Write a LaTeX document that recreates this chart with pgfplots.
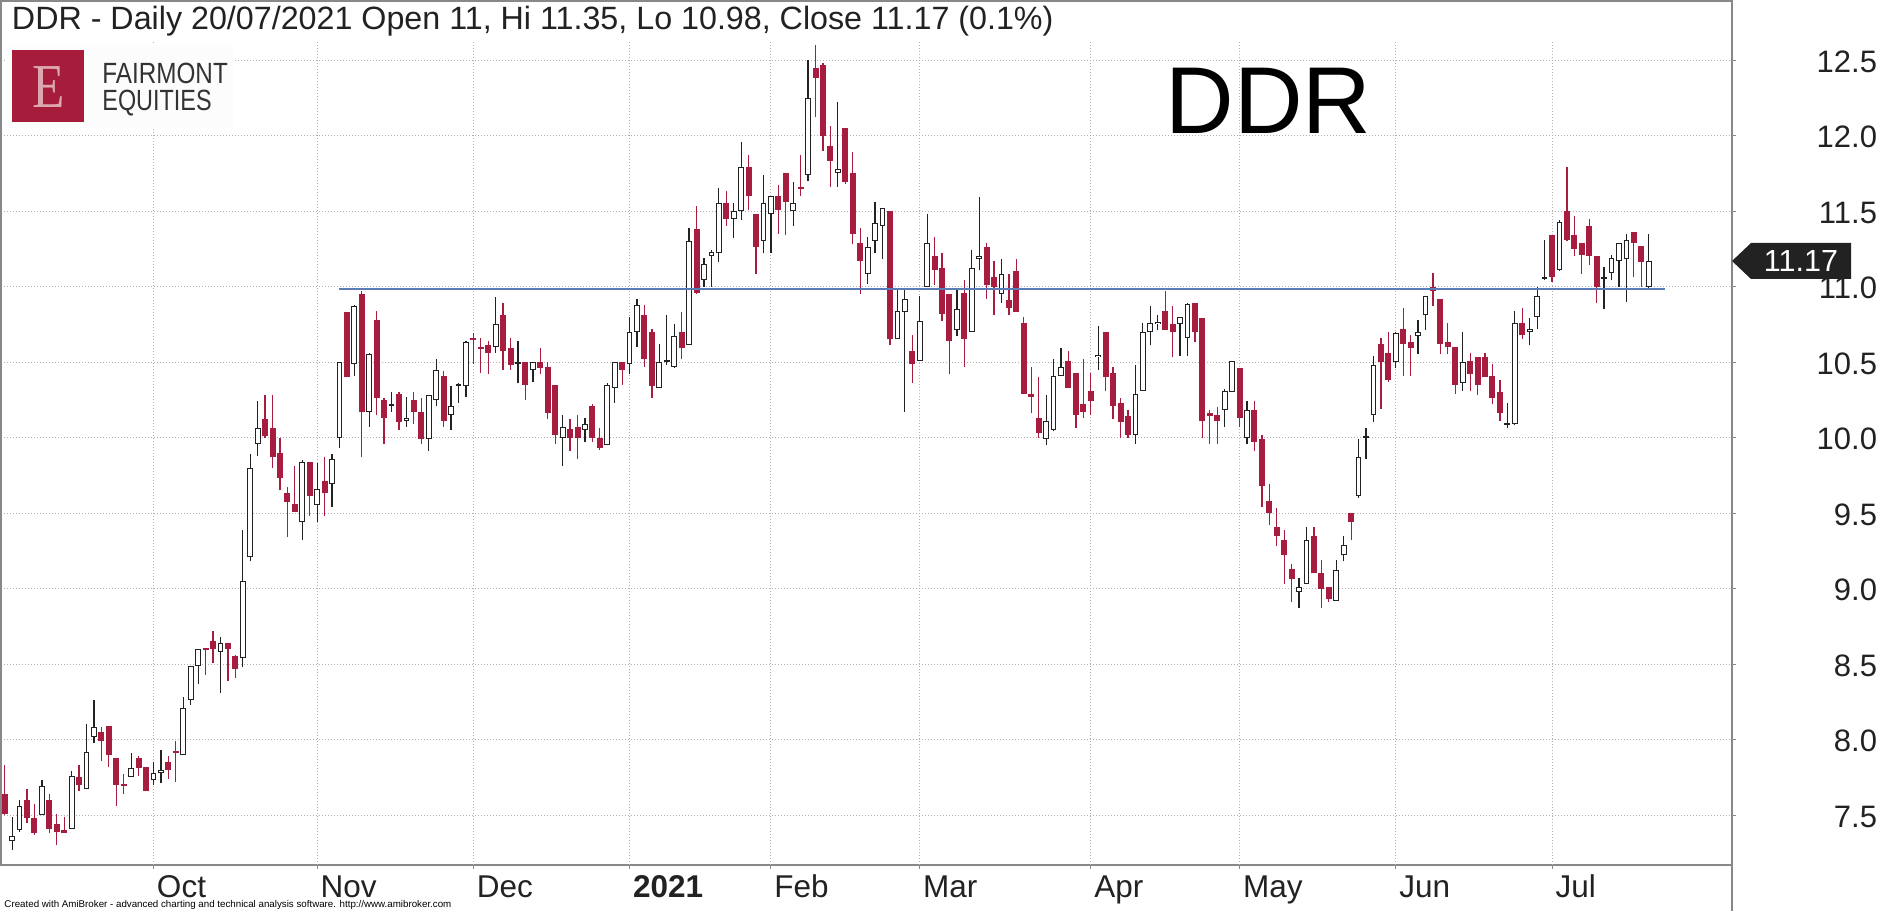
\documentclass[border=0pt]{standalone}
\usepackage{pgfplots}
\pgfplotsset{compat=1.18}
\usepackage{pgfplotstable}
\usepackage{fontspec}
\setmainfont{Liberation Sans}
\newfontfamily\serifE{Liberation Serif}
\definecolor{ddrred}{HTML}{A81C40}
\definecolor{logored}{HTML}{A51D3B}
\definecolor{logopink}{HTML}{DDA7B0}
\definecolor{lineblue}{HTML}{5A7DB8}
\definecolor{gridgray}{HTML}{B0B0B0}
\definecolor{framegray}{HTML}{888888}
\definecolor{candleblack}{HTML}{222222}

% bearish candles (close < open): i open high low close
\pgfplotstableread{
i o h l c
0 7.64 7.83 7.50 7.51
3 7.60 7.67 7.45 7.48
4 7.48 7.57 7.37 7.38
6 7.60 7.64 7.38 7.41
7 7.44 7.51 7.30 7.39
8 7.40 7.49 7.38 7.38
10 7.75 7.83 7.66 7.70
13 8.05 8.08 7.86 7.99
14 8.09 8.09 7.82 7.90
15 7.88 7.88 7.56 7.70
16 7.70 7.77 7.64 7.695
18 7.88 7.89 7.76 7.81
19 7.82 7.82 7.66 7.66
22 7.85 7.89 7.74 7.80
23 7.92 7.99 7.72 7.91
27 8.60 8.60 8.43 8.595
28 8.65 8.72 8.51 8.60
30 8.64 8.64 8.39 8.60
31 8.55 8.56 8.41 8.47
35 10.12 10.28 10.00 10.01
36 10.06 10.28 9.80 9.87
37 9.90 10.00 9.65 9.73
38 9.63 9.67 9.34 9.57
39 9.56 9.81 9.51 9.51
41 9.84 9.84 9.48 9.61
43 9.71 9.87 9.48 9.63
46 10.83 10.83 10.40 10.40
48 10.95 10.97 9.87 10.17
50 10.78 10.84 10.15 10.26
51 10.25 10.26 9.96 10.13
53 10.29 10.30 10.05 10.10
55 10.25 10.30 10.09 10.17
56 10.17 10.26 9.96 9.99
59 10.41 10.44 10.07 10.11
63 10.65 10.69 10.49 10.645
64 10.59 10.66 10.43 10.585
65 10.61 10.64 10.42 10.56
67 10.81 10.89 10.45 10.57
68 10.59 10.66 10.45 10.48
70 10.50 10.50 10.25 10.35
72 10.50 10.59 10.42 10.46
73 10.47 10.50 10.12 10.16
74 10.35 10.35 9.96 10.02
76 10.055 10.12 9.91 10.00
77 10.07 10.15 9.86 10.00
79 10.21 10.22 9.97 10.00
80 10.00 10.06 9.92 9.93
83 10.50 10.50 10.35 10.45
86 10.81 10.88 10.47 10.52
87 10.70 10.72 10.26 10.34
91 10.70 10.83 10.52 10.59
93 11.38 11.53 10.95 10.96
97 11.55 11.63 11.40 11.45
100 11.79 11.87 11.51 11.60
101 11.48 11.48 11.08 11.26
104 11.60 11.67 11.35 11.51
105 11.75 11.75 11.34 11.56
107 11.655 11.87 11.60 11.645
109 12.45 12.60 12.12 12.38
110 12.47 12.48 11.90 12.00
111 11.93 12.06 11.66 11.83
113 12.05 12.05 11.68 11.69
114 11.75 11.89 11.28 11.35
115 11.29 11.39 10.95 11.17
119 11.50 11.50 10.61 10.65
122 10.57 10.68 10.36 10.49
125 11.20 11.33 11.01 11.11
126 11.12 11.22 10.77 10.82
127 10.95 10.95 10.42 10.64
129 10.96 11.04 10.47 10.65
132 11.26 11.29 10.92 11.01
133 11.06 11.17 10.81 11.00
135 10.91 11.08 10.81 10.86
136 11.10 11.18 10.83 10.83
137 10.76 10.80 10.29 10.29
138 10.29 10.47 10.16 10.27
139 10.13 10.40 10.00 10.03
143 10.51 10.57 10.33 10.33
144 10.43 10.43 10.06 10.15
145 10.22 10.52 10.13 10.17
146 10.31 10.43 10.15 10.24
148 10.70 10.70 10.31 10.40
149 10.43 10.47 10.12 10.21
150 10.23 10.26 10.00 10.10
151 10.14 10.18 10.00 10.02
156 10.84 10.97 10.715 10.715
157 10.75 10.87 10.53 10.70
160 10.89 10.89 10.63 10.70
161 10.79 10.79 10.00 10.11
162 10.165 10.18 9.96 10.14
163 10.15 10.20 9.96 10.11
166 10.46 10.46 10.07 10.13
168 10.18 10.24 9.91 9.97
169 9.99 10.02 9.54 9.68
170 9.58 9.69 9.42 9.50
171 9.41 9.53 9.28 9.35
172 9.32 9.39 9.03 9.22
173 9.13 9.16 8.91 9.06
176 9.35 9.41 9.10 9.10
177 9.10 9.19 8.87 9.00
178 9.01 9.01 8.91 8.93
181 9.50 9.50 9.32 9.44
185 10.62 10.66 10.19 10.50
186 10.56 10.70 10.37 10.38
188 10.72 10.86 10.41 10.62
189 10.63 10.68 10.41 10.59
192 11.00 11.09 10.87 10.97
193 10.92 10.92 10.55 10.62
194 10.63 10.76 10.55 10.60
195 10.60 10.60 10.29 10.35
197 10.51 10.56 10.31 10.42
198 10.53 10.53 10.28 10.35
199 10.53 10.56 10.40 10.40
200 10.41 10.49 10.22 10.26
201 10.30 10.38 10.11 10.16
204 10.76 10.86 10.65 10.68
208 11.34 11.34 11.03 11.06
210 11.50 11.79 11.30 11.31
211 11.34 11.47 11.20 11.25
212 11.29 11.29 11.08 11.21
213 11.40 11.45 11.14 11.20
214 11.20 11.20 10.89 11.00
219 11.36 11.36 11.06 11.29
220 11.27 11.27 11.00 11.16
}\redtab

% bullish candles (close >= open)
\pgfplotstableread{
i o h l c
1 7.33 7.49 7.27 7.36
2 7.40 7.60 7.39 7.56
5 7.50 7.73 7.50 7.69
9 7.41 7.79 7.41 7.76
11 7.67 8.10 7.67 7.92
12 8.02 8.26 7.98 8.08
17 7.75 7.91 7.75 7.81
20 7.73 7.85 7.70 7.78
21 7.78 7.93 7.71 7.80
24 7.90 8.28 7.90 8.21
25 8.26 8.49 8.23 8.49
26 8.49 8.60 8.37 8.60
29 8.58 8.68 8.31 8.64
32 8.54 9.39 8.48 9.05
33 9.21 9.89 9.18 9.80
34 9.96 10.24 9.88 10.06
40 9.44 9.85 9.32 9.84
42 9.55 9.83 9.44 9.66
44 9.69 9.89 9.54 9.86
45 10.00 10.50 9.93 10.50
47 10.49 10.88 10.41 10.87
49 10.17 10.56 10.07 10.55
52 10.21 10.30 10.17 10.22
54 10.11 10.27 10.07 10.13
57 9.99 10.28 9.91 10.28
58 10.25 10.52 10.21 10.45
60 10.15 10.34 10.05 10.21
61 10.34 10.36 10.23 10.35
62 10.34 10.64 10.27 10.63
66 10.60 10.93 10.56 10.75
69 10.49 10.64 10.36 10.50
71 10.445 10.50 10.37 10.50
75 10.00 10.15 9.81 10.07
78 10.05 10.13 9.97 10.09
81 9.95 10.36 9.95 10.345
82 10.325 10.50 10.23 10.50
84 10.49 10.80 10.42 10.70
85 10.70 10.92 10.60 10.88
88 10.33 10.62 10.33 10.50
89 10.50 10.81 10.48 10.51
90 10.47 10.75 10.46 10.67
92 10.61 11.39 10.61 11.30
94 11.04 11.19 11.00 11.15
95 11.20 11.24 11.00 11.23
96 11.22 11.65 11.16 11.55
98 11.45 11.55 11.32 11.50
99 11.50 11.96 11.44 11.79
102 11.30 11.74 11.22 11.55
103 11.48 11.60 11.22 11.60
106 11.50 11.69 11.40 11.55
108 11.74 12.50 11.70 12.25
112 11.75 12.22 11.66 11.78
116 11.08 11.33 11.02 11.26
117 11.30 11.56 11.22 11.42
118 11.40 11.52 11.18 11.52
120 10.65 10.98 10.65 10.84
121 10.83 10.98 10.17 10.92
123 10.51 10.94 10.51 10.77
124 11.00 11.48 11.00 11.29
128 10.71 10.99 10.67 10.85
130 10.70 11.24 10.70 11.12
131 11.18 11.59 11.11 11.20
134 10.95 11.18 10.89 11.08
140 9.99 10.28 9.95 10.11
141 10.05 10.52 10.04 10.41
142 10.41 10.59 10.41 10.47
147 10.53 10.74 10.45 10.545
152 10.02 10.48 9.96 10.29
153 10.31 10.76 10.31 10.70
154 10.70 10.87 10.61 10.76
155 10.75 10.81 10.71 10.765
158 10.75 10.80 10.54 10.80
159 10.66 10.89 10.54 10.885
164 10.18 10.32 10.07 10.31
165 10.30 10.51 10.30 10.51
167 10.00 10.24 9.96 10.18
174 8.98 9.07 8.87 9.01
175 9.03 9.41 9.03 9.32
179 8.92 9.19 8.92 9.12
180 9.22 9.35 9.18 9.29
182 9.61 9.99 9.60 9.87
183 10.00 10.06 9.86 10.01
184 10.15 10.54 10.10 10.48
187 10.50 10.70 10.46 10.69
190 10.67 10.78 10.55 10.70
191 10.81 10.94 10.71 10.94
196 10.36 10.70 10.31 10.50
202 10.084 10.23 10.06 10.095
203 10.09 10.84 10.08 10.76
205 10.70 10.79 10.61 10.72
206 10.80 11.00 10.72 10.94
207 11.05 11.31 11.04 11.058
209 11.11 11.44 11.10 11.43
215 11.052 11.13 10.85 11.058
216 11.09 11.21 11.04 11.19
217 11.17 11.29 11.00 11.29
218 11.18 11.35 10.90 11.31
221 11.00 11.35 10.98 11.17
}\whitetab

\pgfplotsset{candle/.style 2 args={draw=none, mark=none, forget plot,
  error bars/.cd, y dir=plus, y explicit, error mark=none,
  error bar style={draw=#1, line width=#2, solid}}}

\begin{document}
\begin{tikzpicture}
\useasboundingbox (0,0) rectangle (752pt,364.4pt);
\begin{axis}[
  at={(0.4pt,18.4pt)}, anchor=south west,
  scale only axis, width=692.4pt, height=345.6pt,
  xmin=-0.5, xmax=232.2, ymin=7.169, ymax=12.891,
  axis line style={framegray, line width=0.45pt},
  ytick={7.5,8,8.5,9,9.5,10,10.5,11,11.5,12,12.5},
  yticklabel pos=right, ytick pos=right,
  xtick={20,42,63,84,103,123,146,166,187,208},
  xticklabels={Oct,Nov,Dec,\textbf{2021},Feb,Mar,Apr,May,Jun,Jul},
  xtick pos=left,
  tick align=outside, major tick length=1.4pt,
  tick style={framegray, line width=0.4pt},
  ymajorgrids,
  grid style={gridgray, line width=0.4pt, dash pattern=on 0.45pt off 0.75pt},
  /pgf/number format/assume math mode=true,
  yticklabel style={/pgf/number format/fixed, /pgf/number format/fixed zerofill,
     /pgf/number format/precision=1, anchor=east, inner sep=0pt, xshift=56.8pt, yshift=-0.6pt,
     font=\fontsize{12.4}{14}\selectfont, text=candleblack},
  xticklabel style={anchor=base west, inner sep=0pt, xshift=1.2pt, yshift=-11.6pt,
     font=\fontsize{12.6}{14}\selectfont, text=candleblack},
  clip=true,
]
\pgfplotsinvokeforeach{20,42,63,84,103,123,146,166,187,208}{
  \draw[gridgray, line width=0.4pt, dash pattern=on 0.45pt off 0.75pt]
    (axis cs:#1,7.169) -- (axis cs:#1,12.63);
}
% wicks
\addplot[candle={ddrred}{0.5pt}]
  table[x=i, y=l, y error plus expr={\thisrow{h}-\thisrow{l}}] {\redtab};
\addplot[candle={candleblack}{0.5pt}]
  table[x=i, y=l, y error plus expr={\thisrow{h}-\thisrow{l}}] {\whitetab};
% bodies
\addplot[candle={ddrred}{2.4pt}]
  table[x=i, y=c, y error plus expr={max(\thisrow{o}-\thisrow{c},0.012)}] {\redtab};
\addplot[candle={candleblack}{2.3pt}]
  table[x=i, y=o, y error plus expr={max(\thisrow{c}-\thisrow{o},0.012)}] {\whitetab};
\addplot[candle={white}{1.5pt}]
  table[x=i, y expr={\thisrow{o}+0.0066}, y error plus expr={max(\thisrow{c}-\thisrow{o}-0.0133,0)}] {\whitetab};
% support line
\addplot[lineblue, line width=0.8pt, forget plot] coordinates {(44.9,10.983) (223.2,10.983)};
\end{axis}
% right axis line continues to bottom
\draw[framegray, line width=0.45pt] (692.8pt,18.4pt) -- (692.8pt,0pt);
% title
\node[anchor=base west, inner sep=0pt, font=\fontsize{12.9}{15}\selectfont, text=candleblack]
  at (4.6pt,352.4pt) {DDR - Daily 20/07/2021 Open 11, Hi 11.35, Lo 10.98, Close 11.17 (0.1\%)};
% big ticker
\node[anchor=base west, inner sep=0pt, font=\fontsize{38}{44}\selectfont] at (466pt,310.8pt) {DDR};
% logo
\fill[white!99!black] (2.8pt,313.2pt) rectangle (93.2pt,346.4pt);
\fill[logored] (4.9pt,315.6pt) rectangle (33.6pt,344.4pt);
\node[inner sep=0pt, font=\serifE\fontsize{25}{28}\selectfont, text=logopink, xscale=0.85] at (19.6pt,329.6pt) {E};
\node[anchor=base west, inner sep=0pt, font=\fontsize{11.7}{13}\selectfont, text=black!80, xscale=0.83] at (40.8pt,330.8pt) {FAIRMONT};
\node[anchor=base west, inner sep=0pt, font=\fontsize{11.7}{13}\selectfont, text=black!80, xscale=0.8] at (40.8pt,320pt) {EQUITIES};
% last price tag
\fill[candleblack] (692.8pt,260pt) -- (700.4pt,267.2pt) -- (740.4pt,267.2pt) -- (740.4pt,252.8pt) -- (700.4pt,252.8pt) -- cycle;
\node[text=white, inner sep=0pt, font=\fontsize{12.2}{14}\selectfont] at (720.4pt,260pt) {11.17};
% footer
\node[anchor=base west, inner sep=0pt, font=\fontsize{3.9}{4.5}\selectfont] at (1.6pt,1.4pt)
  {Created with AmiBroker - advanced charting and technical analysis software. http://www.amibroker.com};
\end{tikzpicture}
\end{document}
